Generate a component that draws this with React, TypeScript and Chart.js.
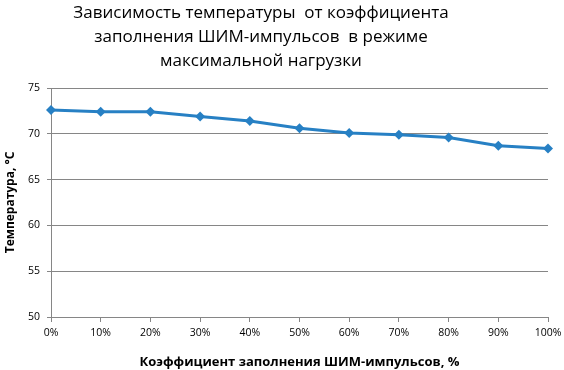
import React, { useEffect, useRef } from "react";
import { Chart, registerables } from "chart.js";

Chart.register(...registerables);

const categories = ["0%", "10%", "20%", "30%", "40%", "50%", "60%", "70%", "80%", "90%", "100%"];
const temperatures = [72.6, 72.4, 72.4, 71.9, 71.4, 70.6, 70.1, 69.9, 69.6, 68.7, 68.4];
const titleLines = ["Зависимость температуры  от коэффициента", "заполнения ШИМ-импульсов  в режиме", "максимальной нагрузки"];
const xTitle = "Коэффициент заполнения ШИМ-импульсов, %";
const yTitle = "Температура, °C";

const titlePlugin = {
  id: "manualTitle",
  afterDraw(chart: any) {
    const c = chart.ctx;
    c.save();
    c.fillStyle = "#000";
    c.font = "17px 'Open Sans'";
    c.textAlign = "center";
    c.textBaseline = "middle";
    titleLines.forEach((line, i) => c.fillText(line, 261, 13 + i * 24.3));
    c.restore();
  },
};

export default function App() {
  const ref = useRef<HTMLCanvasElement | null>(null);
  useEffect(() => {
    document.body.style.margin = "0";
    const ctx = ref.current!;
    const grey = "#868686";
    const chart = new Chart(ctx, {
      type: "line",
      data: {
        labels: categories,
        datasets: [
          {
            data: temperatures,
            borderColor: "#2780c4",
            backgroundColor: "#2780c4",
            borderWidth: 3,
            pointStyle: "rectRot",
            pointRadius: 5,
            pointBorderWidth: 0,
            tension: 0,
          },
        ],
      },
      plugins: [titlePlugin],
      options: {
        animation: false,
        responsive: false,
        devicePixelRatio: 1,
        layout: { padding: { top: 88, right: 16, bottom: 0, left: 0 } },
        plugins: {
          legend: { display: false },
          tooltip: { enabled: false },
          title: { display: false },
        },
        scales: {
          x: {
            offset: false,
            grid: { drawOnChartArea: false, color: grey, tickLength: 5, tickColor: grey },
            border: { color: grey },
            ticks: { color: "#000", font: { family: "'Open Sans'", size: 10.5 }, maxRotation: 0, autoSkip: false, padding: 5 },
            title: {
              display: true,
              text: xTitle,
              color: "#000",
              font: { family: "'Open Sans'", size: 13, weight: "bold" },
              padding: { top: 9, bottom: 0 },
            },
            afterFit: (s: any) => { s.height = 53; s.paddingRight = 0; s.paddingLeft = 0; },
          },
          y: {
            min: 50,
            max: 75,
            ticks: { stepSize: 5, color: "#000", font: { family: "'Open Sans'", size: 10.5 }, padding: 7 },
            grid: { color: grey, tickLength: 4, tickColor: grey },
            border: { color: grey },
            title: {
              display: true,
              text: yTitle,
              color: "#000",
              font: { family: "'Open Sans'", size: 12, weight: "bold" },
              padding: { top: 3, bottom: 2 },
            },
            afterFit: (s: any) => { s.width = 51; s.paddingTop = 0; s.paddingBottom = 0; },
          },
        },
      },
    });
    return () => chart.destroy();
  }, []);
  return <canvas ref={ref} width={564} height={370} style={{ display: "block" }} />;
}
